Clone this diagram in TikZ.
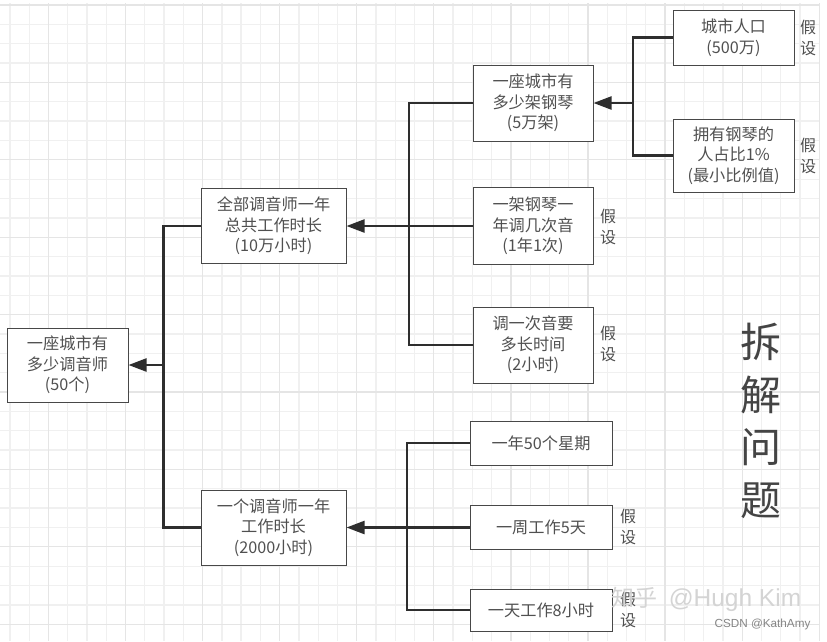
\documentclass[tikz,border=0pt]{standalone}
\usepackage{fontspec}
\setmainfont{Noto Sans CJK SC}
\newfontfamily\latinfont{Liberation Sans}
\usetikzlibrary{arrows.meta}
\definecolor{ink}{HTML}{505050}
\definecolor{edgecol}{HTML}{484848}
\definecolor{linkcol}{HTML}{2E2E2E}
\tikzset{
  gridminor/.style={draw=black!6,line width=1.3pt},
  gridmajor/.style={draw=black!10,line width=1.3pt},
  textbox/.style={draw=edgecol,line width=1pt,fill=white,inner sep=0pt,align=center,text=ink,
    font=\fontsize{16.2}{20.5}\selectfont},
  link/.style={draw=linkcol,line width=2.3pt},
  arrowlink/.style={link,-{Triangle[length=18pt,width=13pt]}},
  note/.style={text=ink,inner sep=0pt,align=center,font=\fontsize{16}{21}\selectfont},
  bigtitle/.style={text=ink!85!black,inner sep=0pt,align=center,font=\fontsize{41}{52.5}\selectfont},
}
\begin{document}
\begin{tikzpicture}[x=1pt,y=-1pt]
\path[use as bounding box,fill=white] (0,0) rectangle (827,641);
\foreach \i [evaluate=\i as \gx using 9.9+19.27*\i] in {0,...,42}
  \draw[gridminor] (\gx,3) -- (\gx,641);
\foreach \j [evaluate=\j as \gy using 5+19.35*\j] in {0,...,32}
  \draw[gridminor] (0,\gy) -- (819,\gy);
\foreach \i [evaluate=\i as \gx using 9.9+19.27*\i] in {2,6,...,42}
  \draw[gridmajor] (\gx,3) -- (\gx,641);
\foreach \j [evaluate=\j as \gy using 5+19.35*\j] in {0,4,...,32}
  \draw[gridmajor] (0,\gy) -- (819,\gy);

\node[textbox,minimum width=121pt,minimum height=74pt] (root) at (67.5,365) {一座城市有\\多少调音师\\(50个)};
\node[textbox,minimum width=145pt,minimum height=75pt] (total) at (273.5,226) {全部调音师一年\\总共工作时长\\(10万小时)};
\node[textbox,minimum width=145pt,minimum height=75pt] (single) at (273.5,527.5) {一个调音师一年\\工作时长\\(2000小时)};
\node[textbox,minimum width=120pt,minimum height=76pt] (pianos) at (533,103) {一座城市有\\多少架钢琴\\(5万架)};
\node[textbox,minimum width=120pt,minimum height=77pt] (freq) at (533,226) {一架钢琴一\\年调几次音\\(1年1次)};
\node[textbox,minimum width=120pt,minimum height=76pt] (dur) at (533,345) {调一次音要\\多长时间\\(2小时)};
\node[textbox,minimum width=121pt,minimum height=55pt] (people) at (733.5,37.5) {城市人口\\(500万)};
\node[textbox,minimum width=121pt,minimum height=73pt] (ratio) at (733.5,155.5) {拥有钢琴的\\人占比1\%\\(最小比例值)};
\node[textbox,minimum width=142pt,minimum height=44pt] (weeks) at (541,443) {一年50个星期};
\node[textbox,minimum width=142pt,minimum height=44pt] (days) at (541,527.5) {一周工作5天};
\node[textbox,minimum width=142pt,minimum height=42pt] (hours) at (541,610) {一天工作8小时};

\coordinate (jroot) at (163.5,365);
\coordinate (jtotal) at (409,226);
\coordinate (jsingle) at (407,527.5);
\coordinate (jpianos) at (633,103);

\draw[link] (total.west) -| (jroot);
\draw[link] (single.west) -| (jroot);
\draw[arrowlink] (jroot) -- (root.east);

\draw[link] (pianos.west) -| (jtotal);
\draw[link] (dur.west) -| (jtotal);
\draw[link] (freq.west) -- (jtotal);
\draw[arrowlink] (jtotal) -- (total.east);

\draw[link] (weeks.west) -| (jsingle);
\draw[link] (hours.west) -| (jsingle);
\draw[link] (days.west) -- (jsingle);
\draw[arrowlink] (jsingle) -- (single.east);

\draw[link] (people.west) -| (jpianos);
\draw[link] (ratio.west) -| (jpianos);
\draw[arrowlink] (jpianos) -- (pianos.east);

\node[note] (n1) at (808,38) {假\\设};
\node[note] (n2) at (808,156) {假\\设};
\node[note] (n3) at (608,227) {假\\设};
\node[note] (n4) at (608,344) {假\\设};
\node[note] (n5) at (628,527) {假\\设};
\node[note] (n6) at (628,610) {假\\设};

\node[bigtitle] (title) at (761,421) {拆\\解\\问\\题};

\node[text=black!17,inner sep=0pt,font=\fontsize{23}{24}\selectfont] (wm1) at (634,598) {知乎};
\node[text=black!17,inner sep=0pt,font=\latinfont\fontsize{24.5}{26}\selectfont] (wm2) at (735,600) {@Hugh Kim};
\node[text=black!48,inner sep=0pt,font=\latinfont\fontsize{11.7}{13}\selectfont] (wm3) at (762.5,624) {CSDN @KathAmy};
\end{tikzpicture}
\end{document}
